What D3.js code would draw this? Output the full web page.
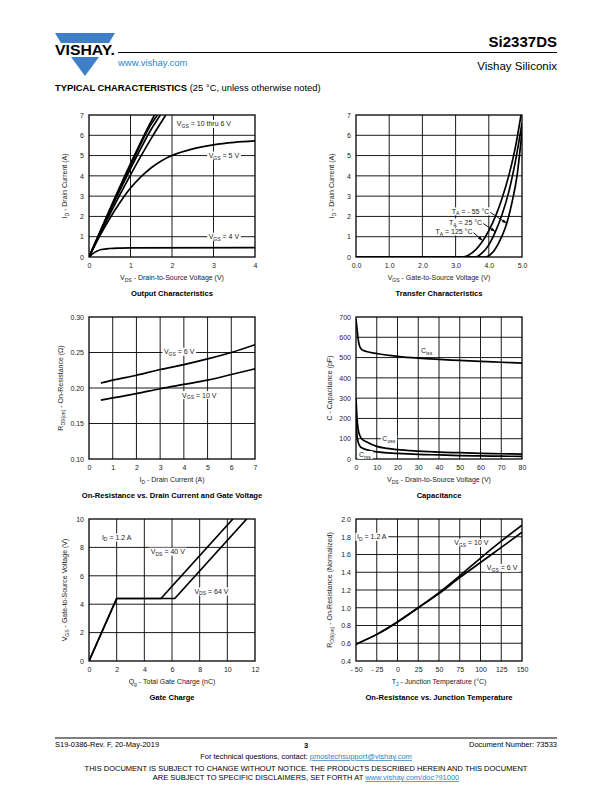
<!DOCTYPE html>
<html>
<head>
<meta charset="utf-8">
<script src="https://cdn.jsdelivr.net/npm/d3@7"></script>
<style>
  body { margin: 0; background: #fff; }
  svg { font-family: "Liberation Sans", Arial, sans-serif; }
</style>
</head>
<body>
<svg id="page" width="612" height="792"></svg>
<script>
// ---- data ----
// Output characteristics: [VDS (V), ID (A)]
var out10V = [[0,0],[0.5,2.35],[1,4.6],[1.5,6.7],[1.58,7]];
var out8V  = [[0,0],[0.5,2.3],[1,4.5],[1.5,6.55],[1.65,7]];
var out7V  = [[0,0],[0.5,2.25],[1,4.35],[1.5,6.3],[1.72,7]];
var out6V  = [[0,0],[0.5,2.1],[1,4.05],[1.5,5.85],[1.85,7]];
var out5V  = [[0,0],[0.25,1.0],[0.5,1.9],[0.75,2.7],[1,3.4],[1.25,3.95],[1.5,4.4],[1.75,4.75],[2,5.0],[2.5,5.33],[3,5.53],[3.5,5.65],[4,5.72]];
var out4V  = [[0,0],[0.1,0.18],[0.2,0.3],[0.3,0.37],[0.5,0.42],[0.75,0.44],[1,0.45],[4,0.46]];

// Transfer characteristics: [VGS (V), ID (A)]
var tr125 = [[0,0],[3.2,0],[3.4,0.1],[3.6,0.35],[3.8,0.75],[4.0,1.3],[4.2,2.0],[4.4,2.9],[4.6,4.0],[4.8,5.4],[4.97,7]];
var tr25  = [[0,0],[3.6,0],[3.8,0.2],[4.0,0.6],[4.2,1.25],[4.4,2.1],[4.6,3.2],[4.8,4.7],[5.0,6.6]];
var trM55 = [[0,0],[3.9,0],[4.1,0.2],[4.3,0.7],[4.5,1.45],[4.7,2.7],[4.85,4.0],[5.0,6.2]];

// On-resistance vs drain current: ID (A), RDS(on) (ohm)
var rdsId   = [0.5, 1, 2, 3, 4, 5, 6, 7];
var rdsVgs6 = [0.207, 0.211, 0.218, 0.226, 0.233, 0.241, 0.250, 0.261];
var rdsVgs10 = [0.183, 0.186, 0.192, 0.199, 0.205, 0.211, 0.219, 0.227];

// Capacitance: [VDS (V), C (pF)]
var ciss = [[0,690],[0.5,640],[1,595],[1.5,565],[2,550],[3,538],[5,530],[10,520],[20,506],[30,497],[40,491],[50,486],[60,481],[70,477],[80,473]];
var coss = [[0,300],[0.5,200],[1,150],[2,112],[3,97],[5,85],[10,62],[15,52],[20,46],[30,39],[40,34],[50,31],[60,28],[70,26],[80,24]];
var crss = [[0,200],[0.5,115],[1,85],[2,62],[3,54],[5,46],[10,35],[20,28],[30,23],[40,20],[50,17],[60,15],[70,14],[80,13]];

// Gate charge: [Qg (nC), VGS (V)]
var qgVds40 = [[0,0],[2,4.4],[5.2,4.4],[10.4,10]];
var qgVds64 = [[0,0],[2,4.4],[6.2,4.4],[11.4,10]];

// Normalized on-resistance vs junction temperature
var tj = [-50, -25, 0, 25, 50, 75, 100, 125, 150];
var rtVgs10 = [0.59, 0.70, 0.84, 1.0, 1.17, 1.36, 1.56, 1.75, 1.93];
var rtVgs6  = [0.59, 0.70, 0.84, 1.0, 1.16, 1.34, 1.51, 1.68, 1.85];

var svg = d3.select('#page');
var W = 166, H = 142;
var FONT = '"Liberation Sans", Arial, sans-serif';

// text with _{sub} parts, subscripts shifted down by 1.6px
function rich(sel, str) {
  var shift = 0;
  str.split(/(_\{[^}]*\})/).forEach(function(p) {
    if (!p) return;
    if (p.indexOf('_{') === 0) {
      sel.append('tspan').attr('font-size', '0.72em').attr('dy', 1.6 - shift).text(p.slice(2, -1));
      shift = 1.6;
    } else {
      var t = sel.append('tspan').text(p);
      if (shift) t.attr('dy', -shift);
      shift = 0;
    }
  });
  return sel;
}

function zip(xs, ys) { return xs.map(function(v, i) { return [v, ys[i]]; }); }

function panel(o) {
  var g = svg.append('g').attr('transform', 'translate(' + o.left + ',' + o.top + ')');
  var x = d3.scaleLinear().domain(o.xd).range([0, W]);
  var y = d3.scaleLinear().domain(o.yd).range([H, 0]);

  g.selectAll('.vg').data(o.xt.slice(1, -1)).enter().append('line')
    .attr('x1', function(d){return x(d);}).attr('x2', function(d){return x(d);})
    .attr('y1', 0).attr('y2', H).style('stroke', '#000').style('stroke-width', 0.9);
  g.selectAll('.hg').data(o.yt.slice(1, -1)).enter().append('line')
    .attr('y1', function(d){return y(d);}).attr('y2', function(d){return y(d);})
    .attr('x1', 0).attr('x2', W).style('stroke', '#000').style('stroke-width', 0.9);

  var ax = g.append('g').attr('transform', 'translate(0,' + H + ')')
    .call(d3.axisBottom(x).tickValues(o.xt).tickFormat(o.xf).tickSize(0).tickPadding(6));
  var ay = g.append('g')
    .call(d3.axisLeft(y).tickValues(o.yt).tickFormat(o.yf).tickSize(0).tickPadding(5));
  [ax, ay].forEach(function(a) {
    a.select('.domain').remove();
    a.attr('font-family', FONT).attr('font-size', 7);
    a.selectAll('text').attr('fill', '#222');
  });

  rich(g.append('text').attr('x', W / 2).attr('y', H + 23).attr('text-anchor', 'middle')
    .attr('font-size', 7).attr('fill', '#222'), o.xtitle);
  rich(g.append('text').attr('transform', 'translate(' + (-o.ytOff) + ',' + (H / 2) + ') rotate(-90)')
    .attr('text-anchor', 'middle').attr('font-size', 7).attr('fill', '#222'), o.ytitle);
  g.append('text').attr('x', W / 2).attr('y', H + 39).attr('text-anchor', 'middle')
    .attr('font-size', 7.6).attr('font-weight', 'bold').text(o.title);

  var cid = 'clip' + o.id;
  g.append('clipPath').attr('id', cid).append('rect').attr('width', W).attr('height', H);
  var line = d3.line().x(function(d){return x(d[0]);}).y(function(d){return y(d[1]);})
    .curve(o.curve || d3.curveMonotoneX);
  g.append('g').attr('clip-path', 'url(#' + cid + ')')
    .selectAll('path').data(o.series).enter().append('path')
    .attr('d', line).style('fill', 'none').style('stroke', '#000')
    .style('stroke-width', 1.7).style('stroke-linejoin', 'round');

  g.append('rect').attr('width', W).attr('height', H)
    .style('fill', 'none').style('stroke', '#000').style('stroke-width', 1.3);

  (o.labels || []).forEach(function(l) {
    var t = rich(g.append('text').attr('x', x(l.x)).attr('y', y(l.y) + 2.4)
      .attr('text-anchor', 'middle').attr('font-size', 7).attr('fill', '#222'), l.t);
    var b = t.node().getBBox();
    g.insert('rect', function() { return t.node(); })
      .attr('x', b.x - 1.5).attr('y', y(l.y) - 4).attr('width', b.width + 3).attr('height', 8)
      .style('fill', '#fff');
    if (l.ax !== undefined) {
      var x0 = b.x + b.width + 1, y0 = y(l.y) + 1;
      var x1 = x(l.ax), y1 = y(l.ay);
      g.append('line').attr('x1', x0).attr('y1', y0).attr('x2', x1).attr('y2', y1)
        .style('stroke', '#000').style('stroke-width', 0.9);
      var ang = Math.atan2(y1 - y0, x1 - x0);
      var p = [[x1, y1],
               [x1 - 5 * Math.cos(ang) + 1.6 * Math.sin(ang), y1 - 5 * Math.sin(ang) - 1.6 * Math.cos(ang)],
               [x1 - 5 * Math.cos(ang) - 1.6 * Math.sin(ang), y1 - 5 * Math.sin(ang) + 1.6 * Math.cos(ang)]];
      g.append('polygon').attr('points', p.join(' ')).style('fill', '#000');
    }
  });
  return g;
}

var f0 = d3.format('d'), f1 = d3.format('.1f'), f2 = d3.format('.2f');

panel({ id: 1, left: 89, top: 115, xd: [0, 4], yd: [0, 7],
  xt: [0,1,2,3,4], yt: [0,1,2,3,4,5,6,7], xf: f0, yf: f0, ytOff: 22,
  xtitle: 'V_{DS} - Drain-to-Source Voltage (V)', ytitle: 'I_{D} - Drain Current (A)',
  title: 'Output Characteristics',
  series: [out10V, out8V, out7V, out6V, out5V, out4V],
  labels: [{t: 'V_{GS} = 10 thru 6 V', x: 2.77, y: 6.56},
           {t: 'V_{GS} = 5 V', x: 3.25, y: 5.0},
           {t: 'V_{GS} = 4 V', x: 3.25, y: 1.0}] });

panel({ id: 2, left: 356, top: 115, xd: [0, 5], yd: [0, 7],
  xt: [0,1,2,3,4,5], yt: [0,1,2,3,4,5,6,7], xf: f1, yf: f0, ytOff: 22,
  xtitle: 'V_{GS} - Gate-to-Source Voltage (V)', ytitle: 'I_{D} - Drain Current (A)',
  title: 'Transfer Characteristics',
  series: [tr125, tr25, trM55],
  labels: [{t: 'T_{A} = - 55 \u00b0C', x: 3.45, y: 2.25, ax: 4.55, ay: 1.65},
           {t: 'T_{A} = 25 \u00b0C', x: 3.3, y: 1.7, ax: 4.2, ay: 1.25},
           {t: 'T_{A} = 125 \u00b0C', x: 2.95, y: 1.25, ax: 3.82, ay: 0.8}] });

panel({ id: 3, left: 89, top: 317, xd: [0, 7], yd: [0.10, 0.30],
  xt: [0,1,2,3,4,5,6,7], yt: [0.10,0.15,0.20,0.25,0.30], xf: f0, yf: f2, ytOff: 26,
  xtitle: 'I_{D} - Drain Current (A)', ytitle: 'R_{DS(on)} - On-Resistance (\u03a9)',
  title: 'On-Resistance vs. Drain Current and Gate Voltage',
  series: [zip(rdsId, rdsVgs6), zip(rdsId, rdsVgs10)],
  labels: [{t: 'V_{GS} = 6 V', x: 3.8, y: 0.251},
           {t: 'V_{GS} = 10 V', x: 4.65, y: 0.190}] });

panel({ id: 4, left: 356, top: 317, xd: [0, 80], yd: [0, 700],
  xt: [0,10,20,30,40,50,60,70,80], yt: [0,100,200,300,400,500,600,700], xf: f0, yf: f0, ytOff: 24,
  xtitle: 'V_{DS} - Drain-to-Source Voltage (V)', ytitle: 'C - Capacitance (pF)',
  title: 'Capacitance',
  series: [ciss, coss, crss],
  labels: [{t: 'C_{iss}', x: 34, y: 532},
           {t: 'C_{oss}', x: 15.8, y: 100},
           {t: 'C_{rss}', x: 4.3, y: 20}] });

panel({ id: 5, left: 89, top: 519, xd: [0, 12], yd: [0, 10],
  xt: [0,2,4,6,8,10,12], yt: [0,2,4,6,8,10], xf: f0, yf: f0, ytOff: 22,
  xtitle: 'Q_{g} - Total Gate Charge (nC)', ytitle: 'V_{GS} - Gate-to-Source Voltage (V)',
  title: 'Gate Charge', curve: d3.curveLinear,
  series: [qgVds40, qgVds64],
  labels: [{t: 'I_{D} = 1.2 A', x: 2.0, y: 8.7},
           {t: 'V_{DS} = 40 V', x: 5.7, y: 7.7},
           {t: 'V_{DS} = 64 V', x: 8.85, y: 4.9}] });

panel({ id: 6, left: 356, top: 519, xd: [-50, 150], yd: [0.4, 2.0],
  xt: [-50,-25,0,25,50,75,100,125,150], yt: [0.4,0.6,0.8,1.0,1.2,1.4,1.6,1.8,2.0],
  xf: function(d){ return d < 0 ? '- ' + (-d) : String(d); }, yf: f1, ytOff: 24,
  xtitle: 'T_{J} - Junction Temperature (\u00b0C)', ytitle: 'R_{DS(on)} - On-Resistance (Normalized)',
  title: 'On-Resistance vs. Junction Temperature',
  series: [zip(tj, rtVgs10), zip(tj, rtVgs6)],
  labels: [{t: 'I_{D} = 1.2 A', x: -31, y: 1.8},
           {t: 'V_{GS} = 10 V', x: 89, y: 1.73},
           {t: 'V_{GS} = 6 V', x: 126, y: 1.45}] });

// ---- page header ----
var blue = '#3f7fc6';
svg.append('polygon').attr('points', '55,33 115,33 109,43 61,43').style('fill', blue);
svg.append('polygon').attr('points', '71,57 99,57 85,76').style('fill', blue);
svg.append('text').attr('x', 55).attr('y', 55).attr('font-size', 15).attr('font-weight', 'bold')
  .attr('textLength', 60).attr('lengthAdjust', 'spacingAndGlyphs').text('VISHAY.');
svg.append('line').attr('x1', 118).attr('x2', 557).attr('y1', 52.5).attr('y2', 52.5)
  .style('stroke', '#000').style('stroke-width', 1);
svg.append('text').attr('x', 557).attr('y', 47).attr('text-anchor', 'end')
  .attr('font-size', 15).attr('font-weight', 'bold').text('Si2337DS');
svg.append('text').attr('x', 118).attr('y', 66).attr('font-size', 9.5).attr('fill', '#2a86c8')
  .text('www.vishay.com');
svg.append('text').attr('x', 557).attr('y', 70).attr('text-anchor', 'end')
  .attr('font-size', 11.5).text('Vishay Siliconix');
var tc = svg.append('text').attr('x', 55).attr('y', 91).attr('font-size', 9.4);
tc.append('tspan').attr('font-weight', 'bold').text('TYPICAL CHARACTERISTICS');
tc.append('tspan').text(' (25 \u00b0C, unless otherwise noted)');

// ---- page footer ----
svg.append('line').attr('x1', 55).attr('x2', 557).attr('y1', 738).attr('y2', 738)
  .style('stroke', '#000').style('stroke-width', 1.2);
svg.append('text').attr('x', 55).attr('y', 747).attr('font-size', 7.5).text('S19-0386-Rev. F, 20-May-2019');
svg.append('text').attr('x', 306).attr('y', 748).attr('text-anchor', 'middle')
  .attr('font-size', 7.5).attr('font-weight', 'bold').text('3');
svg.append('text').attr('x', 557).attr('y', 747).attr('text-anchor', 'end')
  .attr('font-size', 7.5).text('Document Number: 73533');
var q = svg.append('text').attr('x', 306).attr('y', 759).attr('text-anchor', 'middle').attr('font-size', 7.5);
q.append('tspan').text('For technical questions, contact: ');
q.append('tspan').attr('fill', '#2a86c8').attr('text-decoration', 'underline').text('pmostechsupport@vishay.com');
svg.append('text').attr('x', 306).attr('y', 771).attr('text-anchor', 'middle').attr('font-size', 7.5)
  .text('THIS DOCUMENT IS SUBJECT TO CHANGE WITHOUT NOTICE. THE PRODUCTS DESCRIBED HEREIN AND THIS DOCUMENT');
var d2 = svg.append('text').attr('x', 306).attr('y', 780).attr('text-anchor', 'middle').attr('font-size', 7.5);
d2.append('tspan').text('ARE SUBJECT TO SPECIFIC DISCLAIMERS, SET FORTH AT ');
d2.append('tspan').attr('fill', '#2a86c8').attr('text-decoration', 'underline').text('www.vishay.com/doc?91000');
</script>
</body>
</html>
